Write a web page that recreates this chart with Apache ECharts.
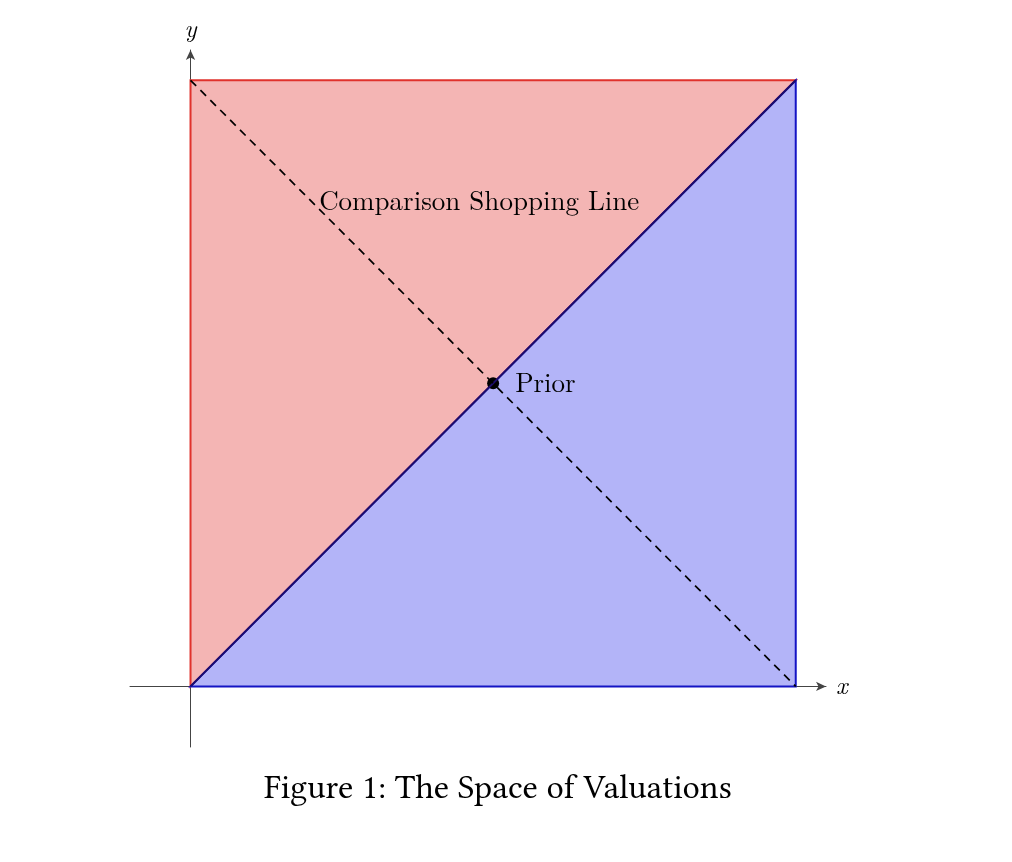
<!DOCTYPE html>
<html>
<head>
<meta charset="UTF-8">
<title>The Space of Valuations</title>
<script src="https://cdn.jsdelivr.net/npm/echarts@6/dist/echarts.min.js"></script>
<style>
    html, body { margin: 0; padding: 0; background: #fff; }
    #chart { width: 1012px; height: 862px; }
</style>
</head>
<body>
<div id="chart"></div>
<script>
    // regions of the unit square
    const redRegion = [[0, 0], [0, 1], [1, 1]];
    const blueRegion = [[0, 0], [1, 0], [1, 1]];
    const diagonal = [[0, 0], [1, 1]];
    const shoppingLine = [[0, 1], [1, 0]];
    const prior = [[0.5, 0.5]];
    const shoppingLabel = [[0.477, 0.80]];

    const serif = '"Latin Modern Roman", "Liberation Serif", serif';
    const captionFont = '"Linux Libertine O", "Libertinus Serif", "Latin Modern Roman", "Liberation Serif", serif';

    function polygonSeries(points, fill, stroke) {
        return {
            type: 'custom',
            coordinateSystem: 'cartesian2d',
            data: [0],
            silent: true,
            renderItem: function (params, api) {
                return {
                    type: 'polygon',
                    shape: { points: points.map(p => api.coord(p)) },
                    style: { fill: fill, stroke: stroke, lineWidth: 2 }
                };
            }
        };
    }

    const chart = echarts.init(document.getElementById('chart'));
    chart.setOption({
        animation: false,
        title: {
            text: 'Figure 1: The Space of Valuations',
            left: 259,
            top: 766,
            textStyle: { fontFamily: captionFont, fontSize: 34.4, fontWeight: 'normal', color: '#000' }
        },
        grid: { left: 130, top: 50, width: 696, height: 697 },
        xAxis: {
            type: 'value', min: -0.1, max: 1.05,
            name: 'x', nameLocation: 'end', nameGap: 10,
            nameTextStyle: { fontFamily: serif, fontStyle: 'italic', fontSize: 25, color: '#000', verticalAlign: 'middle' },
            axisLine: { onZero: true, symbol: ['none', 'arrow'], symbolSize: [7, 10], lineStyle: { color: '#444', width: 1 } },
            axisTick: { show: false }, axisLabel: { show: false }, splitLine: { show: false }
        },
        yAxis: {
            type: 'value', min: -0.1, max: 1.05,
            name: 'y', nameLocation: 'end', nameGap: 8,
            nameTextStyle: { fontFamily: serif, fontStyle: 'italic', fontSize: 25, color: '#000', align: 'center' },
            axisLine: { onZero: true, symbol: ['none', 'arrow'], symbolSize: [7, 10], lineStyle: { color: '#444', width: 1 } },
            axisTick: { show: false }, axisLabel: { show: false }, splitLine: { show: false }
        },
        series: [
            polygonSeries(redRegion, '#f4b5b4', '#e0322c'),
            polygonSeries(blueRegion, '#b3b4f8', '#1414c4'),
            {
                type: 'line', data: diagonal, symbol: 'none', silent: true,
                lineStyle: { color: '#1c0c6c', width: 2 }
            },
            {
                type: 'line', data: shoppingLine, symbol: 'none', silent: true,
                lineStyle: { color: '#000', width: 1.7, type: [8, 6] }
            },
            {
                type: 'scatter', data: prior, symbolSize: 12, silent: true,
                itemStyle: { color: '#000', opacity: 1 },
                label: {
                    show: true, position: 'right', distance: 16, formatter: 'Prior',
                    fontFamily: serif, fontSize: 27, color: '#000', opacity: 1
                }
            },
            {
                type: 'scatter', data: shoppingLabel, symbolSize: 0, silent: true,
                itemStyle: { opacity: 1 },
                label: {
                    show: true, position: 'inside', formatter: 'Comparison Shopping Line',
                    fontFamily: serif, fontSize: 27, color: '#000', opacity: 1
                }
            }
        ]
    });
</script>
</body>
</html>
